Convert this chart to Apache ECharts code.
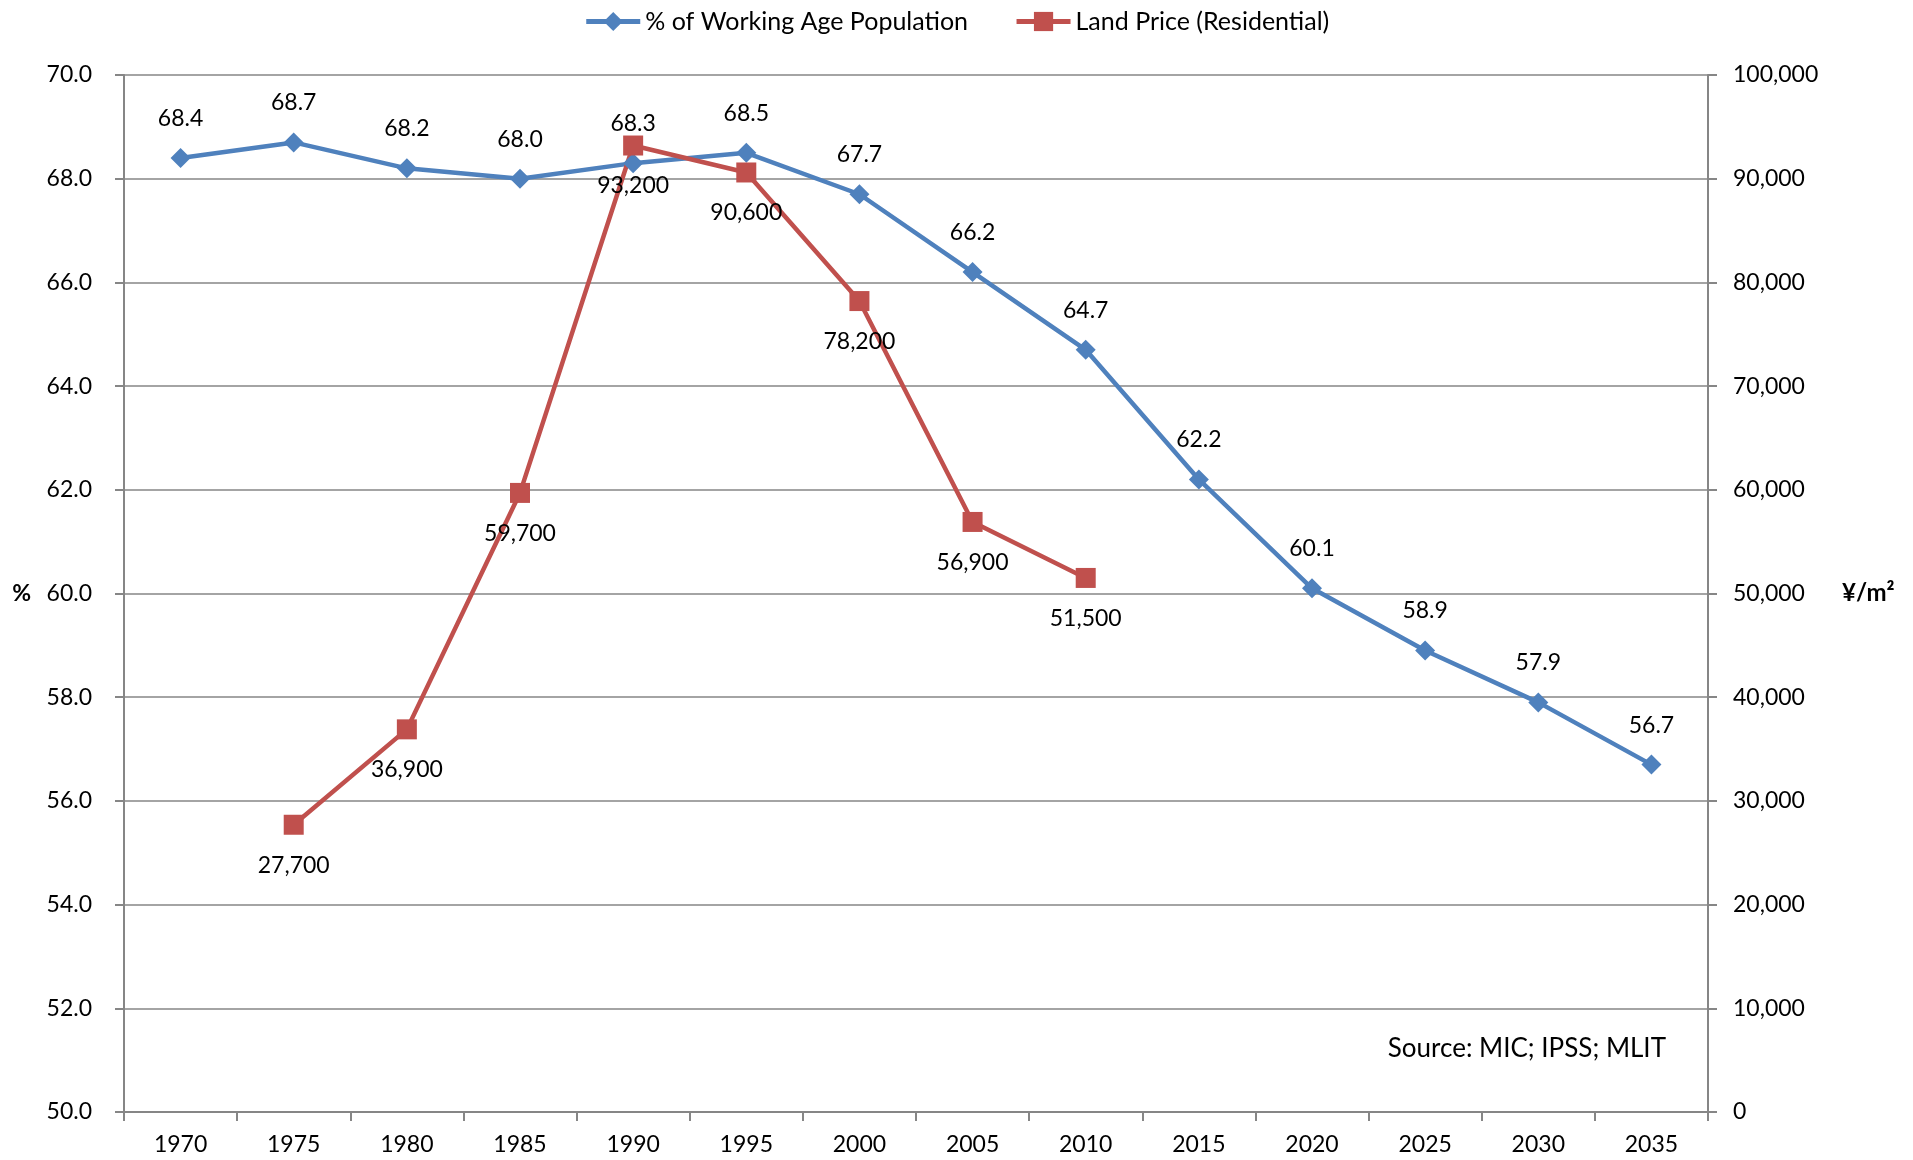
<!DOCTYPE html>
<html><head><meta charset="utf-8">
<script src="https://cdn.jsdelivr.net/npm/echarts@6/dist/echarts.min.js"></script>
<style>html,body{margin:0;padding:0;background:#fff}#c{width:1913px;height:1160px}</style>
</head><body><div id="c"></div>
<script>
var years = ['1970','1975','1980','1985','1990','1995','2000','2005','2010','2015','2020','2025','2030','2035'];
var workingAge = [68.4,68.7,68.2,68.0,68.3,68.5,67.7,66.2,64.7,62.2,60.1,58.9,57.9,56.7];
var landPrice = [null,27700,36900,59700,93200,90600,78200,56900,51500,null,null,null,null,null];
var seriesNames = ['% of Working Age Population','Land Price (Residential)'];

var FONT = 'Lato, "Open Sans", sans-serif';
var axisGray = '#868686';
var chart = echarts.init(document.getElementById('c'));
chart.setOption({
  animation: false,
  textStyle: {fontFamily: FONT},
  title: {
    text: 'Source: MIC; IPSS; MLIT', right: 242, top: 1031,
    textStyle: {fontFamily: FONT, fontSize: 26, fontWeight: 'normal', color: '#000'}
  },
  legend: {
    top: 4, left: 'center', itemWidth: 54, itemHeight: 24, itemGap: 46,
    lineStyle: {width: 5},
    textStyle: {fontFamily: FONT, fontSize: 25, color: '#000'},
    data: seriesNames
  },
  grid: {left: 124, right: 205, top: 75, bottom: 48, containLabel: false},
  xAxis: {
    type: 'category', data: years, boundaryGap: true,
    axisLine: {lineStyle: {color: axisGray, width: 2}},
    axisTick: {show: true, length: 9, lineStyle: {color: axisGray, width: 2}},
    axisLabel: {fontSize: 23, color: '#000', margin: 21, fontFamily: FONT}
  },
  yAxis: [{
    type: 'value', min: 50, max: 70, interval: 2, position: 'left',
    name: '%', nameLocation: 'middle', nameGap: 93, nameRotate: 0,
    nameTextStyle: {fontSize: 23, fontWeight: 'bold', color: '#000', fontFamily: FONT},
    axisLine: {show: true, lineStyle: {color: axisGray, width: 2}},
    axisTick: {show: true, length: 9, lineStyle: {color: axisGray, width: 2}},
    axisLabel: {fontSize: 23, color: '#000', margin: 32, fontFamily: FONT, formatter: function(v){return v.toFixed(1);}},
    splitLine: {show: true, lineStyle: {color: axisGray, width: 1.5}}
  },{
    type: 'value', min: 0, max: 100000, interval: 10000, position: 'right',
    name: '¥/m²', nameLocation: 'middle', nameGap: 134, nameRotate: 0,
    nameTextStyle: {fontSize: 24, fontWeight: 'bold', color: '#000', fontFamily: FONT},
    axisLine: {show: true, lineStyle: {color: axisGray, width: 2}},
    axisTick: {show: true, length: 9, lineStyle: {color: axisGray, width: 2}},
    axisLabel: {fontSize: 23, color: '#000', margin: 25, fontFamily: FONT, formatter: function(v){return v.toLocaleString('en-US');}},
    splitLine: {show: false}
  }],
  series: [{
    name: seriesNames[0], type: 'line', yAxisIndex: 0, data: workingAge,
    symbol: 'diamond', symbolSize: 20,
    lineStyle: {color: '#4F81BD', width: 4.5}, itemStyle: {color: '#4F81BD'},
    label: {show: true, position: 'top', distance: 18, fontSize: 23, color: '#000', fontFamily: FONT,
      formatter: function(p){return p.value.toFixed(1);}}
  },{
    name: seriesNames[1], type: 'line', yAxisIndex: 1, data: landPrice,
    symbol: 'rect', symbolSize: 20, connectNulls: false,
    lineStyle: {color: '#C0504D', width: 4.5}, itemStyle: {color: '#C0504D'},
    label: {show: true, position: 'bottom', distance: 19, fontSize: 23, color: '#000', fontFamily: FONT,
      formatter: function(p){return p.value.toLocaleString('en-US');}}
  }]
});
</script></body></html>
